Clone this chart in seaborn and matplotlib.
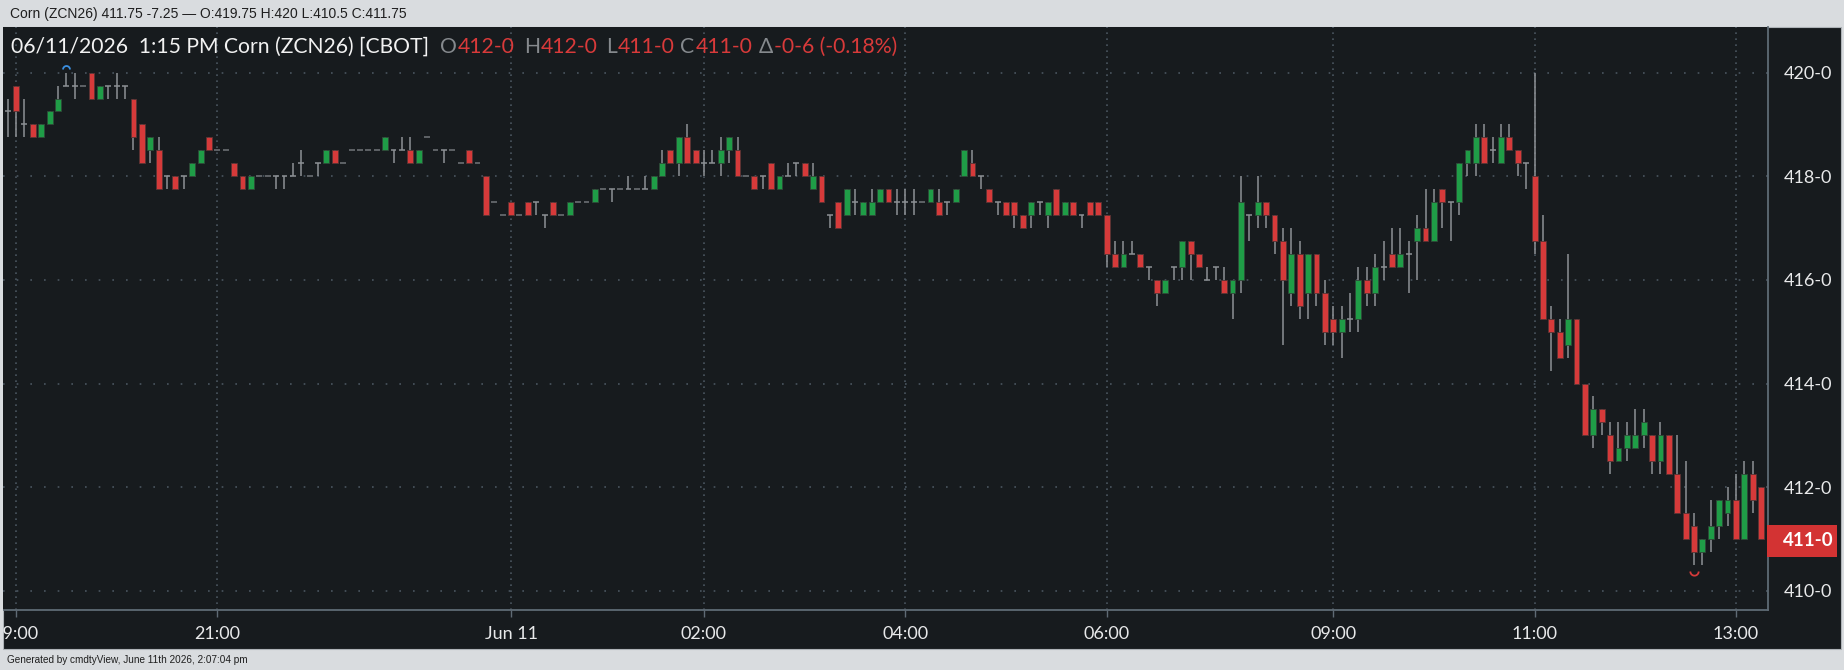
import numpy as np
import matplotlib
matplotlib.use("Agg")
import matplotlib.pyplot as plt
from matplotlib.patches import Rectangle
from matplotlib.path import Path
import seaborn as sns

# 5 minute bars ZCN26, from 18:55 (Jun 10) to 13:15 (Jun 11)
opens = [
    419.25, 419.75, 419.0, 419.0, 418.75, 419.0, 419.25, 419.75, 419.75, 419.75,
    420.0, 419.5, 419.75, 419.75, 419.75, 419.5, 419.0, 418.5, 418.5, 418.0,
    418.0, 418.0, 418.0, 418.25, 418.75, 418.5, 418.5, 418.25, 418.0, 417.75,
    418.0, 418.0, 418.0, 418.0, 418.0, 418.25, 418.0, 418.25, 418.25, 418.5,
    418.25, 418.5, 418.5, 418.5, 418.5, 418.5, 418.5, 418.5, 418.5, 418.25,
    418.75, 418.5, 418.5, 418.5, 418.25, 418.5, 418.25, 418.0, 417.5, 417.25,
    417.5, 417.25, 417.5, 417.5, 417.25, 417.5, 417.25, 417.25, 417.5, 417.5,
    417.5, 417.75, 417.75, 417.75, 417.75, 417.75, 417.75, 417.75, 418.0, 418.5,
    418.25, 418.75, 418.5, 418.25, 418.25, 418.25, 418.5, 418.5, 418.0, 418.0,
    418.0, 418.25, 417.75, 418.0, 418.25, 418.25, 417.75, 418.0, 417.25, 417.5,
    417.25, 417.5, 417.25, 417.25, 417.5, 417.75, 417.5, 417.5, 417.5, 417.5,
    417.5, 417.5, 417.5, 417.5, 418.0, 418.25, 418.0, 417.75, 417.5, 417.5,
    417.5, 417.25, 417.25, 417.5, 417.25, 417.75, 417.25, 417.5, 417.25, 417.5,
    417.5, 417.25, 416.5, 416.25, 416.5, 416.5, 416.25, 416.0, 415.75, 416.25,
    416.25, 416.75, 416.5, 416.0, 416.25, 416.0, 415.75, 416.0, 417.25, 417.25,
    417.5, 417.25, 416.75, 415.75, 416.5, 415.75, 416.5, 415.75, 415.25, 415.0,
    415.25, 415.25, 416.0, 415.75, 416.25, 416.5, 416.25, 416.5, 416.75, 417.0,
    416.75, 417.75, 417.5, 417.5, 418.25, 418.25, 418.75, 418.5, 418.25, 418.75,
    418.5, 418.25, 418.0, 416.75, 415.25, 415.0, 414.75, 415.25, 414.0, 413.0,
    413.5, 413.0, 412.5, 412.75, 412.75, 413.0, 413.0, 412.5, 413.0, 412.25,
    411.5, 411.25, 410.75, 411.0, 411.25, 411.5, 411.75, 411.0, 412.25, 412.0,
]
highs = [
    419.5, 419.75, 419.5, 419.0, 419.0, 419.25, 419.75, 420.0, 420.0, 419.75,
    420.0, 419.75, 419.75, 420.0, 419.75, 419.5, 419.0, 418.75, 418.75, 418.0,
    418.0, 418.0, 418.25, 418.5, 418.75, 418.5, 418.5, 418.25, 418.0, 418.0,
    418.0, 418.0, 418.0, 418.0, 418.25, 418.5, 418.0, 418.25, 418.5, 418.5,
    418.25, 418.5, 418.5, 418.5, 418.5, 418.75, 418.5, 418.75, 418.75, 418.5,
    418.75, 418.5, 418.5, 418.5, 418.25, 418.5, 418.25, 418.0, 417.5, 417.25,
    417.5, 417.25, 417.5, 417.5, 417.25, 417.5, 417.25, 417.5, 417.5, 417.5,
    417.75, 417.75, 417.75, 417.75, 418.0, 417.75, 418.0, 418.0, 418.5, 418.5,
    418.75, 419.0, 418.5, 418.5, 418.5, 418.75, 418.75, 418.75, 418.0, 418.0,
    418.0, 418.25, 418.0, 418.25, 418.25, 418.25, 418.25, 418.0, 417.25, 417.5,
    417.75, 417.75, 417.5, 417.75, 417.75, 417.75, 417.75, 417.75, 417.75, 417.5,
    417.75, 417.75, 417.5, 417.75, 418.5, 418.5, 418.0, 417.75, 417.5, 417.5,
    417.5, 417.25, 417.5, 417.5, 417.5, 417.75, 417.5, 417.5, 417.25, 417.5,
    417.5, 417.25, 416.75, 416.75, 416.75, 416.5, 416.25, 416.0, 416.0, 416.25,
    416.75, 416.75, 416.5, 416.25, 416.25, 416.25, 416.0, 418.0, 417.25, 418.0,
    417.5, 417.25, 417.0, 417.0, 416.75, 416.5, 416.5, 416.0, 415.5, 415.5,
    415.75, 416.25, 416.25, 416.5, 416.75, 417.0, 417.0, 416.75, 417.25, 417.75,
    417.75, 417.75, 417.5, 418.25, 418.5, 419.0, 419.0, 418.75, 419.0, 419.0,
    418.5, 418.25, 420.0, 417.25, 415.5, 415.25, 416.5, 415.25, 414.0, 413.75,
    413.5, 413.25, 413.25, 413.25, 413.5, 413.5, 413.0, 413.25, 413.0, 413.0,
    412.5, 411.5, 411.0, 411.75, 411.75, 412.0, 412.25, 412.5, 412.5, 412.0,
]
lows = [
    418.75, 418.75, 418.75, 418.75, 418.75, 419.0, 419.25, 419.75, 419.5, 419.75,
    419.5, 419.5, 419.5, 419.5, 419.5, 418.5, 418.25, 418.25, 417.75, 417.75,
    417.75, 417.75, 418.0, 418.25, 418.5, 418.5, 418.5, 418.0, 417.75, 417.75,
    418.0, 418.0, 417.75, 417.75, 418.0, 418.0, 418.0, 418.0, 418.25, 418.25,
    418.25, 418.5, 418.5, 418.5, 418.5, 418.5, 418.25, 418.5, 418.25, 418.25,
    418.75, 418.5, 418.25, 418.5, 418.25, 418.25, 418.25, 417.25, 417.5, 417.25,
    417.25, 417.25, 417.25, 417.25, 417.0, 417.25, 417.25, 417.25, 417.5, 417.5,
    417.5, 417.75, 417.5, 417.75, 417.75, 417.75, 417.75, 417.75, 418.0, 418.25,
    418.0, 418.25, 418.25, 418.0, 418.25, 418.0, 418.25, 418.0, 418.0, 417.75,
    417.75, 417.75, 417.75, 418.0, 418.0, 418.0, 417.75, 417.5, 417.0, 417.0,
    417.25, 417.25, 417.25, 417.25, 417.5, 417.5, 417.25, 417.25, 417.25, 417.5,
    417.5, 417.25, 417.25, 417.5, 418.0, 418.0, 417.75, 417.5, 417.25, 417.25,
    417.0, 417.0, 417.0, 417.25, 417.0, 417.25, 417.25, 417.25, 417.0, 417.25,
    417.25, 416.25, 416.25, 416.25, 416.5, 416.25, 416.0, 415.5, 415.75, 416.0,
    416.0, 416.0, 416.25, 416.0, 416.0, 415.75, 415.25, 415.75, 416.75, 417.0,
    417.0, 416.5, 414.75, 415.5, 415.25, 415.25, 415.5, 414.75, 414.75, 414.5,
    415.0, 415.0, 415.5, 415.5, 416.0, 416.25, 416.25, 415.75, 416.0, 416.75,
    416.75, 417.0, 416.75, 417.25, 418.0, 418.0, 418.25, 418.25, 418.25, 418.5,
    418.0, 417.75, 416.5, 415.25, 414.25, 414.5, 414.5, 414.0, 413.0, 412.75,
    413.0, 412.25, 412.5, 412.5, 412.75, 412.75, 412.25, 412.25, 412.25, 411.5,
    411.0, 410.5, 410.5, 410.75, 411.0, 411.25, 411.0, 411.0, 411.5, 411.0,
]
closes = [
    419.25, 419.25, 419.0, 418.75, 419.0, 419.25, 419.5, 419.75, 419.75, 419.75,
    419.5, 419.75, 419.75, 419.75, 419.75, 418.75, 418.25, 418.75, 417.75, 418.0,
    417.75, 418.0, 418.25, 418.5, 418.5, 418.5, 418.5, 418.0, 417.75, 418.0,
    418.0, 418.0, 418.0, 418.0, 418.0, 418.25, 418.0, 418.25, 418.5, 418.25,
    418.25, 418.5, 418.5, 418.5, 418.5, 418.75, 418.5, 418.5, 418.25, 418.5,
    418.75, 418.5, 418.5, 418.5, 418.25, 418.25, 418.25, 417.25, 417.5, 417.25,
    417.25, 417.25, 417.25, 417.5, 417.25, 417.25, 417.25, 417.5, 417.5, 417.5,
    417.75, 417.75, 417.75, 417.75, 417.75, 417.75, 417.75, 418.0, 418.25, 418.25,
    418.75, 418.25, 418.25, 418.25, 418.25, 418.5, 418.75, 418.0, 418.0, 417.75,
    418.0, 417.75, 418.0, 418.0, 418.25, 418.0, 418.0, 417.5, 417.25, 417.0,
    417.75, 417.5, 417.5, 417.5, 417.75, 417.5, 417.5, 417.5, 417.5, 417.5,
    417.75, 417.25, 417.5, 417.75, 418.5, 418.0, 418.0, 417.5, 417.5, 417.25,
    417.25, 417.0, 417.5, 417.5, 417.5, 417.25, 417.5, 417.25, 417.25, 417.25,
    417.25, 416.5, 416.25, 416.5, 416.5, 416.25, 416.25, 415.75, 416.0, 416.25,
    416.75, 416.5, 416.25, 416.0, 416.25, 415.75, 416.0, 417.5, 417.25, 417.5,
    417.25, 416.75, 416.0, 416.5, 415.5, 416.5, 415.75, 415.0, 415.0, 415.25,
    415.25, 416.0, 415.75, 416.25, 416.25, 416.25, 416.5, 416.5, 417.0, 416.75,
    417.5, 417.5, 417.5, 418.25, 418.5, 418.75, 418.25, 418.5, 418.75, 418.5,
    418.25, 418.25, 416.75, 415.25, 415.0, 414.5, 415.25, 414.0, 413.0, 413.5,
    413.25, 412.5, 412.75, 413.0, 413.0, 413.25, 412.5, 413.0, 412.25, 411.5,
    411.0, 410.75, 411.0, 411.25, 411.75, 411.75, 411.0, 412.25, 411.75, 411.0,
]

tick_bars = [1, 25, 60, 83, 107, 131, 158, 182, 206]
tick_labels = ['19:00', '21:00', 'Jun 11', '02:00', '04:00', '06:00', '09:00', '11:00', '13:00']
price_ticks = [410, 412, 414, 416, 418, 420]
last_price = 411
session_high_bar, session_high = 7, 420.0
session_low_bar, session_low = 201, 410.5

header = 'Corn (ZCN26) 411.75 -7.25 \u2014 O:419.75 H:420 L:410.5 C:411.75'
footer = 'Generated by cmdtyView, June 11th 2026, 2:07:04 pm'
# (text, colour key, gap after in px)
title_parts = [
    ('06/11/2026  1:15 PM Corn (ZCN26) [CBOT]', 'w', 11),
    ('O', 'g', 1), ('412-0', 'r', 9), ('H', 'g', 1), ('412-0', 'r', 8),
    ('L', 'g', 1), ('411-0', 'r', 6), ('C', 'g', 1), ('411-0', 'r', 6),
    ('\u0394', 'g', 1), ('-0-6 (-0.18%)', 'r', 0),
]

# colores
BG = '#d9dcdf'
PANEL = '#171b1e'
RED = '#d63a3a'
GREEN = '#1f9d47'
WICK = '#8d9195'
FLAT = '#6a6f73'
GRID = '#4a5560'
SPINE = '#5f6b75'
TXT = '#e8e9ea'
text_cols = {'w': '#f2f2f2', 'g': '#85898d', 'r': '#d83a3a'}

sns.set_theme(style='dark')
plt.rcParams['font.family'] = ['Lato', 'DejaVu Sans']

W, H = 1844, 670
fig = plt.figure(figsize=(W / 100, H / 100), dpi=100, facecolor=BG)


def fx(px):
    return px / W


def fy(py):
    return 1 - py / H


# dark chart panel
fig.add_artist(Rectangle((fx(3), fy(649)), fx(1838), (649 - 27) / H, transform=fig.transFigure,
                         facecolor=PANEL, edgecolor='#aeb3b7', lw=0.8, zorder=-5))

ax = fig.add_axes([fx(3), fy(610), fx(1765), (610 - 27) / H])
ax.set_facecolor(PANEL)

o, hi, lo, c = (np.array(v) for v in (opens, highs, lows, closes))
x = np.arange(len(o))
up = c > o
down = c < o
doji = (c == o) & (hi > lo)
flat = (c == o) & (hi == lo)
bw = 0.7

ax.vlines(x[hi > lo], lo[hi > lo], hi[hi > lo], color=WICK, lw=1.1, zorder=2)
ax.bar(x[up], (c - o)[up], bottom=o[up], width=bw, color=GREEN, edgecolor='#2f4a38', lw=0.6, zorder=3)
ax.bar(x[down], (o - c)[down], bottom=c[down], width=bw, color=RED, edgecolor='#5a3434', lw=0.6, zorder=3)
ax.hlines(o[doji], x[doji] - bw / 2, x[doji] + bw / 2, color=WICK, lw=1.1, zorder=3)
ax.hlines(o[flat], x[flat] - bw / 2, x[flat] + bw / 2, color=FLAT, lw=1.2, zorder=3)

# session high / low markers
t = np.linspace(0, np.pi, 24)
cap = Path(np.column_stack([np.cos(t), np.sin(t)]))
cup = Path(np.column_stack([np.cos(t), -np.sin(t)]))
ax.plot(session_high_bar, session_high + 0.07, marker=cap, ms=5, mfc='none', mec='#3b8fe0', mew=1.3, zorder=4)
ax.plot(session_low_bar, session_low - 0.11, marker=cup, ms=6, mfc='none', mec=RED, mew=1.3, zorder=4)

ax.set_xlim(-0.55, 209.82)
ax.set_ylim(409.63, 420.88)

# grid
for p in price_ticks:
    ax.axhline(p, color=GRID, lw=1.2, ls=(0, (1, 7.2)), zorder=1)
for b in tick_bars:
    ax.axvline(b, color=GRID, lw=1.2, ls=(0, (1, 2.6)), zorder=1)

sns.despine(ax=ax, left=True, top=True, right=False, bottom=False)
for s in ('right', 'bottom'):
    ax.spines[s].set_color(SPINE)
    ax.spines[s].set_linewidth(1.3)
    ax.spines[s].set_visible(True)

ax.yaxis.tick_right()
ax.set_yticks(price_ticks)
ax.set_yticklabels([f'{p}-0' for p in price_ticks])
ax.tick_params(axis='y', length=0, pad=11.5, labelsize=13, labelcolor=TXT)
ax.set_xticks(tick_bars)
ax.set_xticklabels(tick_labels)
ax.tick_params(axis='x', bottom=True, length=5, width=1, color=SPINE, pad=6.5, labelsize=13, labelcolor=TXT)
ax.grid(False)

# last price box
fig.add_artist(Rectangle((fx(1767), fy(557)), fx(70), 32 / H, transform=fig.transFigure,
                         facecolor='#d33333', edgecolor='none', zorder=5))
fig.text(fx(1783), fy(541), f'{last_price}-0', color='white', fontsize=13.5, fontweight='bold',
         va='center', ha='left', zorder=6)

# title line inside chart
renderer = fig.canvas.get_renderer()
xpos = 11
for txt, col, gap in title_parts:
    tt = fig.text(fx(xpos), fy(47), txt, color=text_cols[col], fontsize=15.2, va='center', ha='left')
    xpos += tt.get_window_extent(renderer).width + gap

# header and footer strips
fig.text(fx(10), fy(14), header, color='#1e1e1e', fontsize=10,
         family=['Liberation Sans Narrow', 'Liberation Sans', 'DejaVu Sans'], va='center', ha='left')
fig.text(fx(7), fy(660), footer, color='#1e1e1e', fontsize=7.2,
         family=['Liberation Sans Narrow', 'Liberation Sans', 'DejaVu Sans'], va='center', ha='left')

# left border strip over the clipped first tick label
fig.add_artist(Rectangle((0, fy(649)), fx(3), (649 - 27) / H, transform=fig.transFigure,
                         facecolor=BG, edgecolor='none', zorder=10))

fig.savefig('out.png', dpi=100, facecolor=BG)
